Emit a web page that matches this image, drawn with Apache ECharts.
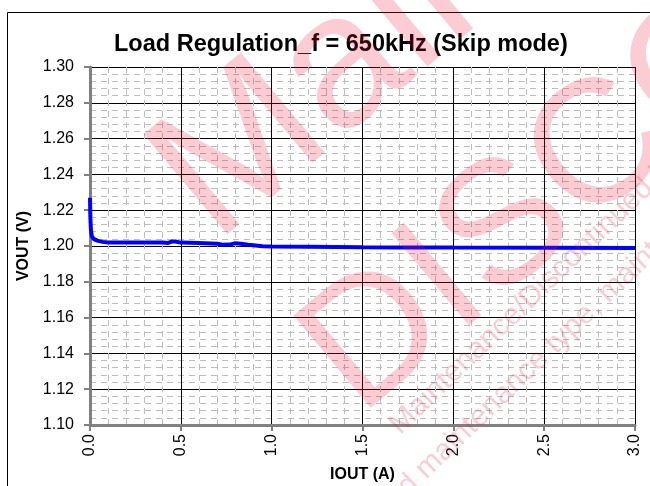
<!DOCTYPE html>
<html>
<head>
<meta charset="utf-8">
<script src="https://cdn.jsdelivr.net/npm/echarts@6/dist/echarts.min.js"></script>
<style>
  html, body { margin: 0; padding: 0; background: #fff; }
  #chart { width: 650px; height: 486px; }
</style>
</head>
<body>
<div id="chart"></div>
<script>
// IOUT (A) vs VOUT (V)
const iout = [0, 0.002, 0.005, 0.01, 0.02, 0.04, 0.07, 0.1, 0.2, 0.3, 0.4, 0.43, 0.45, 0.47, 0.5,
  0.6, 0.7, 0.73, 0.77, 0.8, 0.83, 0.87, 0.95, 1.0, 1.2, 1.5, 1.7, 2.0, 2.5, 3.0];
const vout = [1.227, 1.216, 1.209, 1.2055, 1.204, 1.203, 1.2023, 1.202, 1.2019, 1.2019, 1.2019, 1.2017, 1.2025, 1.2025, 1.2019,
  1.2017, 1.2013, 1.2007, 1.2008, 1.2016, 1.2013, 1.2007, 1.1998, 1.1997, 1.1996, 1.1993, 1.1992, 1.1991, 1.199, 1.1989];

const chart = echarts.init(document.getElementById('chart'));

const font = 'Liberation Sans, Arial, sans-serif';
const pink = 'rgba(235, 25, 55, 0.22)';
const deg = Math.PI / 180;

const option = {
  backgroundColor: '#fff',
  animation: false,
  textStyle: { fontFamily: font },
  title: {
    text: 'Load Regulation_f = 650kHz (Skip mode)',
    left: 109,
    top: 28,
    textStyle: { fontSize: 23.5, fontWeight: 'bold', color: '#000', fontFamily: font }
  },
  grid: { left: 90, top: 67, right: 15, bottom: 61, outerBoundsMode: 'none', containLabel: false },
  xAxis: {
    type: 'value',
    min: 0,
    max: 3,
    interval: 0.5,
    name: 'IOUT (A)',
    nameLocation: 'middle',
    nameGap: 42,
    nameTextStyle: { fontSize: 16, fontWeight: 'bold', color: '#000' },
    axisLine: { onZero: false, lineStyle: { color: '#808080', width: 3 } },
    axisTick: { length: 6, lineStyle: { color: '#808080', width: 2 } },
    axisLabel: { rotate: 90, fontSize: 16, color: '#000', margin: 9, formatter: (v) => v.toFixed(1) },
    splitLine: { lineStyle: { color: '#000', width: 1 } },
    minorTick: { show: false, splitNumber: 5 },
    minorSplitLine: { show: true, lineStyle: { color: '#bdbdbd', width: 1, type: [6, 5] } }
  },
  yAxis: {
    type: 'value',
    min: 1.1,
    max: 1.3,
    interval: 0.02,
    name: 'VOUT (V)',
    nameLocation: 'middle',
    nameGap: 58,
    nameTextStyle: { fontSize: 16, fontWeight: 'bold', color: '#000' },
    axisLine: { show: true, lineStyle: { color: '#808080', width: 3 } },
    axisTick: { show: true, length: 6, lineStyle: { color: '#808080', width: 2 } },
    axisLabel: { fontSize: 16, color: '#000', margin: 16, formatter: (v) => v.toFixed(2) },
    splitLine: { lineStyle: { color: '#000', width: 1 } },
    minorTick: { show: false, splitNumber: 5 },
    minorSplitLine: { show: true, lineStyle: { color: '#bdbdbd', width: 1, type: [6, 5] } }
  },
  series: [{
    type: 'line',
    data: iout.map((x, i) => [x, vout[i]]),
    showSymbol: false,
    lineStyle: { color: '#0000ff', width: 4 },
    z: 5
  }],
  graphic: [
    {
      type: 'rect',
      silent: true,
      shape: { x: 7.5, y: 12.5, width: 700, height: 600 },
      style: { fill: 'none', stroke: '#000', lineWidth: 1 },
      z: -10
    },
    // datasheet watermark
    {
      type: 'text', silent: true, x: 243, y: 277, rotation: 40 * deg, z: 100,
      style: { text: 'Maintenance', fill: pink, fontSize: 190, fontFamily: font, align: 'left', verticalAlign: 'bottom' }
    },
    {
      type: 'text', silent: true, x: 385, y: 447, rotation: 40 * deg, z: 100,
      style: { text: 'DISCONTINUED', fill: pink, fontSize: 175, fontFamily: font, align: 'left', verticalAlign: 'bottom' }
    },
    {
      type: 'text', silent: true, x: 405, y: 440, rotation: 44 * deg, z: 100,
      style: { text: 'Maintenance/Discontinued includes following four Product lifecycle stage.', fill: pink, fontSize: 30, fontFamily: font, align: 'left', verticalAlign: 'bottom' }
    },
    {
      type: 'text', silent: true, x: 360, y: 553, rotation: 44 * deg, z: 100,
      style: { text: 'planed maintenance type, maintenance type, planed discontinued type', fill: pink, fontSize: 30, fontFamily: font, align: 'left', verticalAlign: 'bottom' }
    }
  ]
};

chart.setOption(option);
window.addEventListener('resize', () => chart.resize());
</script>
</body>
</html>
